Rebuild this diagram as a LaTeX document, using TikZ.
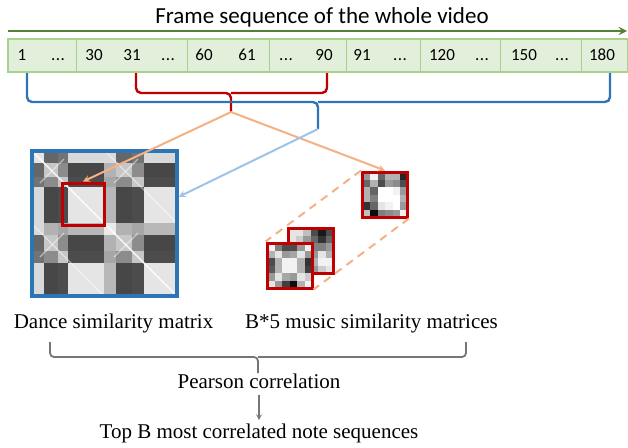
\documentclass[tikz,border=0pt]{standalone}
\usepackage{fontspec}
\setmainfont{Liberation Serif}
\newfontfamily\calibfont{Carlito}
\usetikzlibrary{calc}

\definecolor{seqgreen}{HTML}{548235}
\definecolor{bandfill}{HTML}{E2EFDA}
\definecolor{bandline}{HTML}{A9D18E}
\definecolor{braceblue}{HTML}{2E75B6}
\definecolor{arrowblue}{HTML}{9DC3E6}
\definecolor{boxred}{HTML}{C00000}
\definecolor{lineorange}{HTML}{F4B183}
\definecolor{bracegray}{HTML}{767676}

\tikzset{
  numtxt/.style={font=\calibfont\fontsize{17}{20}\selectfont, inner sep=1pt, anchor=base},
  lbltxt/.style={font=\fontsize{21}{24}\selectfont, inner sep=3pt},
  brace/.style={line width=2.4pt, rounded corners=5pt},
  redbox/.style={draw=boxred, line width=3pt, inner sep=0pt},
  orangearr/.style={->, lineorange, line width=2pt},
}
\newcommand{\fdots}{.\kern0.5pt.\kern0.5pt.}

% segment bounds and labels of the dance matrix, similarity of labels (% white)
\def\bnd{{0,12,26,36,72,84,100,112,145}}
\def\lab{{0,1,2,3,4,1,2,3}}
\def\simtab{{90,40,45,85,85, 40,78,55,28,70, 45,55,78,30,65, 85,28,30,90,72, 85,70,65,72,92}}

% small pixel matrix: #1 x, #2 y, #3 cell size, #4 36 grey values
\newcommand{\pixmat}[4]{%
  \foreach \v [count=\k from 0] in {#4}{
    \pgfmathtruncatemacro\mrow{\k/6}
    \pgfmathtruncatemacro\mcol{\k-6*\mrow}
    \fill[white!\v!black] ({#1+\mcol*#3},{#2+\mrow*#3}) rectangle ++(#3,#3);
  }}

\begin{document}
\begin{tikzpicture}[x=1pt, y=-1pt, >=stealth, thick]
    \useasboundingbox (0,0) rectangle (628,447);

    % Frame sequence
    \node[font=\calibfont\fontsize{23}{26}\selectfont] (title) at (322,17) {Frame sequence of the whole video};
    \draw[->, seqgreen, line width=2.6pt] (8,31) -- (627,31);
    \draw[bandline, line width=1.2pt, fill=bandfill] (8,39) rectangle (628,72);
    \foreach \x in {76,187,269,346,420,500,581}
        \draw[bandline, line width=0.8pt] (\x,39) -- (\x,72);
    \foreach \t/\x [count=\k] in {1/22, \fdots/58, 30/94, 31/132, \fdots/168, 60/204, 61/247, \fdots/286,
                                 90/324, 91/362, \fdots/400, 120/442, \fdots/482, 150/524, \fdots/562, 180/602}
        \node[numtxt] (f\k) at (\x,60.5) {\t};

    % Braces
    \draw[brace, boxred] (136,73) |- (231,93) -- (231,112);
    \draw[brace, boxred] (327,73) |- (231,93);
    \draw[brace, braceblue] (27,73) |- (318,102) -- (318,129);
    \draw[brace, braceblue] (610,73) |- (318,102);
    \coordinate (redtip) at (231,112);
    \coordinate (bluetip) at (318,129);

    % Dance similarity matrix
    \begin{scope}[shift={(32,151)}]
        \foreach \i in {0,...,7}{
            \foreach \j in {0,...,7}{
                \pgfmathtruncatemacro\xa{\bnd[\j]}
                \pgfmathtruncatemacro\xb{\bnd[\j+1]}
                \pgfmathtruncatemacro\ya{\bnd[\i]}
                \pgfmathtruncatemacro\yb{\bnd[\i+1]}
                \pgfmathtruncatemacro\la{\lab[\i]}
                \pgfmathtruncatemacro\lb{\lab[\j]}
                \pgfmathtruncatemacro\g{\simtab[5*\la+\lb]}
                \fill[white!\g!black] (\xa,\ya) rectangle (\xb,\yb);
            }
        }
        \draw[white, line width=1.5pt, opacity=0.8] (0,0) -- (145,145);
        \draw[white, line width=1.2pt, opacity=0.5] (0,73) -- (72,145) (73,0) -- (145,72);
        \draw[white, line width=1.2pt, opacity=0.5] (8,32) -- (32,8) (82,106) -- (106,82) (8,106) -- (32,82) (82,32) -- (106,8);
    \end{scope}
    \node[draw=braceblue, line width=3.5pt, minimum size=145pt, inner sep=0pt] (dance) at (104.5,223.5) {};
    \node[redbox, minimum size=42pt] (win) at (83,204) {};

    % Music similarity matrices
    \pixmat{288}{228}{7.5}{90,90,75,30,10,30, 90,80,60,40,20,40, 85,90,70,50,50,60,
                           80,80,75,60,90,70, 70,75,80,70,95,95, 80,70,60,60,80,90}
    \node[redbox, minimum size=45pt] (mus2) at (310.5,250.5) {};
    \pixmat{267}{243}{7.5}{95,50,30,30,60,95, 70,90,60,65,90,60, 30,70,95,95,70,20,
                           35,70,95,95,70,25, 60,90,65,60,90,80, 90,60,25,5,70,95}
    \node[redbox, minimum size=45pt] (mus3) at (289.5,265.5) {};
    \pixmat{362.5}{172}{7.5}{60,95,40,70,70,15, 40,70,30,60,55,30, 70,40,100,100,95,60,
                             70,50,100,100,100,70, 20,40,90,95,100,60, 75,5,50,55,60,95}
    \node[redbox, minimum size=45pt] (mus1) at (385,194.5) {};
    \draw[lineorange, line width=2pt, dash pattern=on 8pt off 6pt] (mus1.north west) -- (mus3.north west);
    \draw[lineorange, line width=2pt, dash pattern=on 8pt off 6pt] (mus1.south east) -- (mus3.south east);

    % Arrows from braces
    \draw[orangearr] (redtip) -- (win.north);
    \draw[orangearr] (redtip) -- (mus1.north);
    \draw[->, arrowblue, line width=2pt] (bluetip) -- ($(dance.north east)!0.32!(dance.south east)$);

    % Labels
    \node[lbltxt] (dancelbl) at (113.5,323) {Dance similarity matrix};
    \node[lbltxt] (musiclbl) at (371.5,323) {B*5 music similarity matrices};
    \draw[brace, bracegray, line width=1.8pt, rounded corners=4pt] (50,342) |- (258,357) -- (258,373);
    \draw[brace, bracegray, line width=1.8pt, rounded corners=4pt] (466,342) |- (258,357);
    \node[lbltxt] (pearson) at (259,381) {Pearson correlation};
    \node[lbltxt] (topb) at (259,433) {Top B most correlated note sequences};
    \draw[->, bracegray, line width=1.5pt, shorten <=3pt] (pearson) -- (topb);
\end{tikzpicture}
\end{document}
